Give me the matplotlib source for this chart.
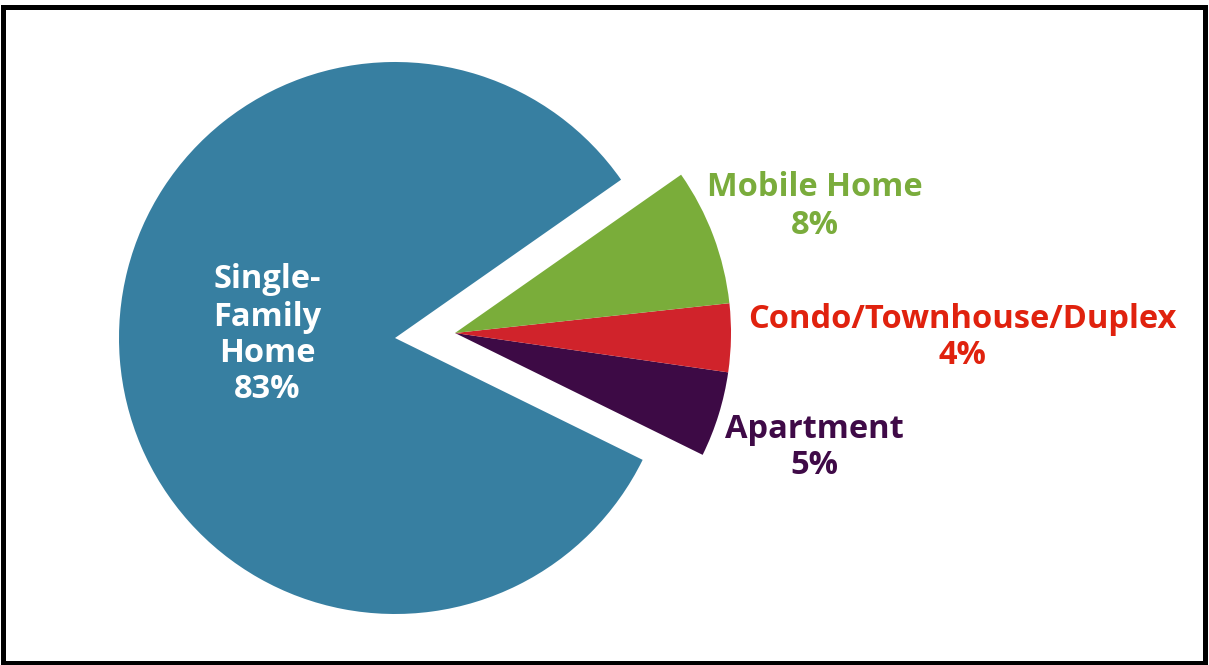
import matplotlib
matplotlib.use("Agg")
import matplotlib.pyplot as plt
import numpy as np
from matplotlib.patches import Rectangle

categories = ["Single-\nFamily\nHome", "Apartment", "Condo/Townhouse/Duplex", "Mobile Home"]
values = [83, 5, 4, 8]
wedge_colors = ["#377FA1", "#3D0A45", "#D0232B", "#7AAD3A"]
text_colors = ["#FFFFFF", "#3F0A47", "#E0220E", "#7AAC3C"]

W, H = 1209, 665
fig = plt.figure(figsize=(W / 100, H / 100), dpi=100)
ax = fig.add_axes([0, 0, 1, 1])

center = (395, H - 338)
radius = 276
wedges, _ = ax.pie(values, colors=wedge_colors, startangle=35, counterclock=True,
                   center=center, radius=radius, wedgeprops=dict(linewidth=0))

# shift the small slices as a group
shift = (60, 5)
for w in wedges[1:]:
    w.set_center((center[0] + shift[0], center[1] + shift[1]))

ax.set_xlim(0, W)
ax.set_ylim(0, H)
ax.set_aspect("equal")
ax.axis("off")

font = dict(family="Open Sans", fontweight="bold", fontsize=23.5, ha="center", va="center")
label_pos = {
    0: [(267, 280), (267, 317), (267, 353), (267, 390)],
    1: [(814, 429), (814, 465)],
    2: [(962, 320), (962, 355)],
    3: [(815, 188), (815, 226)],
}
for i, (cat, val) in enumerate(zip(categories, values)):
    lines = cat.split("\n") + [f"{val}%"]
    for (x, y), line in zip(label_pos[i], lines):
        ax.text(x, H - y, line, color=text_colors[i], **font)

fig.patches.append(Rectangle((2.5 / W, 2.5 / H), 1 - 7 / W, 1 - 9 / H, transform=fig.transFigure,
                             fill=False, edgecolor="black", linewidth=3.6))

fig.savefig("out.png", dpi=100, facecolor="white")
